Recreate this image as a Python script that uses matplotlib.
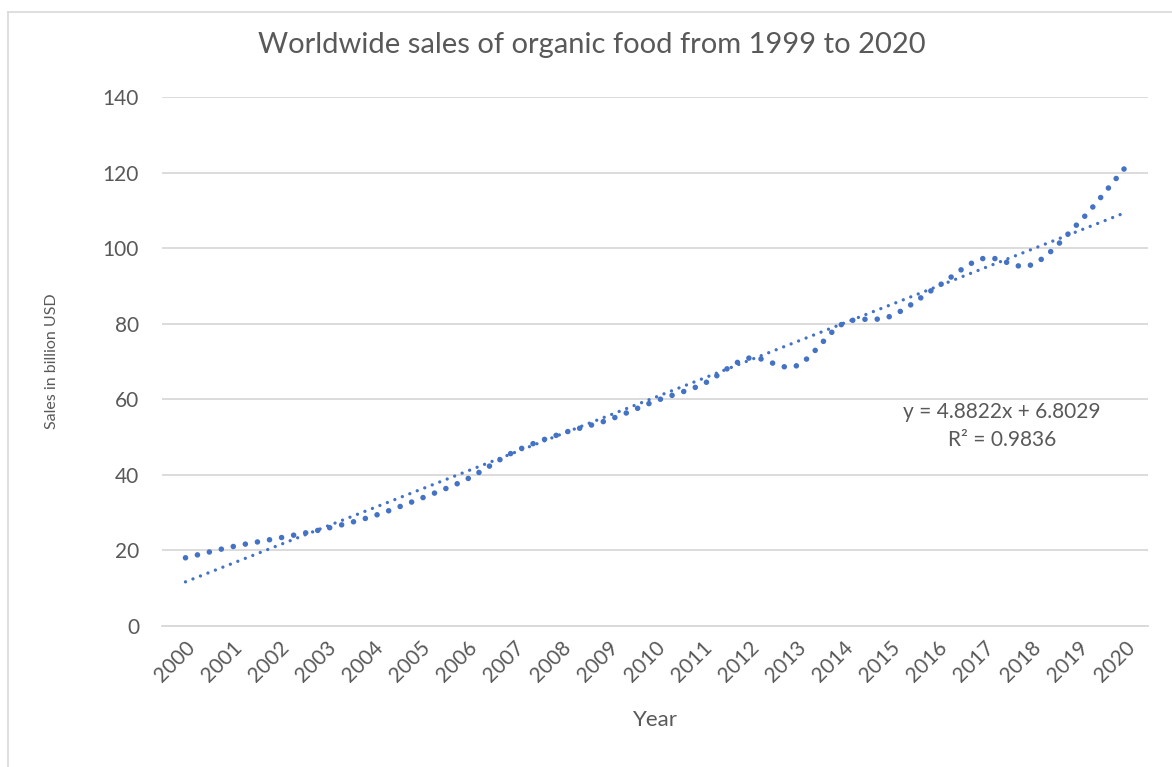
import numpy as np
import matplotlib
matplotlib.use("Agg")
import matplotlib.pyplot as plt
from matplotlib.lines import Line2D

years = [str(y) for y in range(2000, 2021)]
sales = [18.05, 21.0, 23.3, 25.8, 29.1, 33.7, 38.9, 46.1, 50.9, 54.5, 59.5,
         63.9, 70.9, 68.8, 80.0, 81.9, 89.7, 97.3, 95.5, 106.4, 121.1]
trend_slope = 4.8822
trend_intercept = 6.8029
r_squared = 0.9836
y_ticks = [0, 20, 40, 60, 80, 100, 120, 140]

title = "Worldwide sales of organic food from 1999 to 2020"
xlabel = "Year"
ylabel = "Sales in billion USD"

BLUE = "#4472C4"
GRID = "#D9D9D9"
TXT = "#595959"
FONT = ["Lato", "DejaVu Sans"]


def smooth(x, y, n=30):
    """Catmull-Rom rendering of a smoothed line (as in spreadsheet charts)."""
    x = np.asarray(x, float)
    y = np.asarray(y, float)
    px = np.concatenate([[2 * x[0] - x[1]], x, [2 * x[-1] - x[-2]]])
    py = np.concatenate([[2 * y[0] - y[1]], y, [2 * y[-1] - y[-2]]])
    xs, ys = [], []
    t = np.linspace(0, 1, n, endpoint=False)
    for i in range(1, len(px) - 2):
        p0, p1, p2, p3 = (np.array([px[j], py[j]]) for j in (i - 1, i, i + 1, i + 2))
        m1 = (p2 - p0) / 2
        m2 = (p3 - p1) / 2
        h00 = 2 * t**3 - 3 * t**2 + 1
        h10 = t**3 - 2 * t**2 + t
        h01 = -2 * t**3 + 3 * t**2
        h11 = t**3 - t**2
        pts = (np.outer(h00, p1) + np.outer(h10, m1) + np.outer(h01, p2) + np.outer(h11, m2))
        xs.extend(pts[:, 0])
        ys.extend(pts[:, 1])
    xs.append(x[-1])
    ys.append(y[-1])
    return np.array(xs), np.array(ys)


W, H = 1172, 767
fig = plt.figure(figsize=(W / 100, H / 100), dpi=100)
ax = fig.add_axes([162 / W, 1 - 626 / H, (1148 - 162) / W, (626 - 97) / H])

idx = np.arange(len(years))
sx, sy = smooth(idx, sales)
ax.plot(sx, sy, color=BLUE, lw=4.0, linestyle=(0, (0.01, 2.2)),
        dash_capstyle="round", solid_capstyle="round", zorder=3)

tx = np.array([idx[0], idx[-1]], float)
ty = trend_slope * (tx + 1) + trend_intercept
ax.plot(tx, ty, color=BLUE, lw=2.4, linestyle=(0, (0.01, 2.4)),
        dash_capstyle="round", zorder=3)

ax.set_xlim(-0.5, len(years) - 0.5)
ax.set_ylim(0, 140)
ax.set_yticks(y_ticks)
ax.set_yticklabels([str(v) for v in y_ticks], fontfamily=FONT, fontsize=15, color=TXT)
ax.set_xticks(idx)
ax.set_xticklabels(years, rotation=45, ha="right", va="top", rotation_mode="anchor",
                   fontfamily=FONT, fontsize=15, color=TXT)
ax.tick_params(axis="both", length=0)
ax.tick_params(axis="y", pad=16.5)
ax.tick_params(axis="x", pad=8)
ax.grid(axis="y", color=GRID, lw=1.3)
ax.set_axisbelow(True)
for s in ["top", "right", "left"]:
    ax.spines[s].set_visible(False)
ax.spines["bottom"].set_color(GRID)
ax.spines["bottom"].set_linewidth(1.3)

fig.text(592 / W, 1 - 45 / H, title, ha="center", va="center",
         fontfamily=FONT, fontsize=21, color=TXT)
fig.text(655 / W, 1 - 720 / H, xlabel, ha="center", va="center",
         fontfamily=FONT, fontsize=16, color=TXT)
fig.text(52 / W, 1 - 361 / H, ylabel, ha="center", va="center", rotation=90,
         fontfamily=FONT, fontsize=11.5, color=TXT)

eq = f"y = {trend_slope:.4f}x + {trend_intercept:.4f}\nR\u00b2 = {r_squared:.4f}"
fig.text(1002 / W, 1 - 426 / H, eq, ha="center", va="center", linespacing=1.55,
         fontfamily=FONT, fontsize=15, color=TXT)

# chart-area border
fig.add_artist(Line2D([8 / W, 8 / W], [0, 1 - 12 / H], transform=fig.transFigure,
                      color=GRID, lw=1.2))
fig.add_artist(Line2D([8 / W, 1], [1 - 12 / H, 1 - 12 / H], transform=fig.transFigure,
                      color=GRID, lw=1.2))

fig.savefig("out.png", dpi=100, facecolor="white")
